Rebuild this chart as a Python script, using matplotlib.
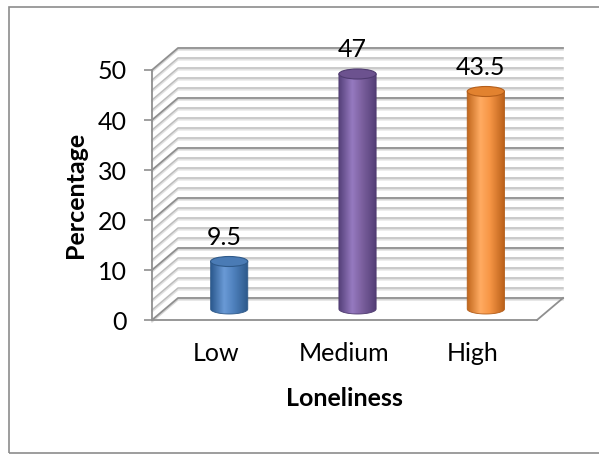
import numpy as np
import matplotlib
matplotlib.use('Agg')
import matplotlib.pyplot as plt
from matplotlib.path import Path
from matplotlib.patches import PathPatch, Ellipse, Rectangle
from matplotlib.colors import LinearSegmentedColormap

plt.rcParams['font.family'] = ['Lato', 'DejaVu Sans']

categories = ['Low', 'Medium', 'High']
percentages = [9.5, 47, 43.5]

# body shading (edge, highlight, base, edge) and top cap colour per cylinder
body_colors = [
    ['#2c5a8f', '#6a9ad6', '#4f81bd', '#2a5687'],
    ['#55407a', '#967ac0', '#7d61a0', '#503c73'],
    ['#c0661c', '#ffab62', '#f79646', '#b85f18'],
]
top_colors = ['#4a7bb5', '#6c528f', '#e2822f']
edge_colors = ['#2f5a8a', '#4f3b70', '#b45e1a']

FS = 18

W, H = 599, 455
fig = plt.figure(figsize=(W / 100, H / 100), dpi=100)
ax = fig.add_axes([152 / W, 135 / H, 385 / W, 250 / H])
ax.set_xlim(-0.5, 2.5)
ax.set_ylim(0, 50)

# depth of the 3d box in data units
DX = 0.2026
DY = 4.4

# back wall + side wall gridlines, every 2 units
for v in range(0, 51, 2):
    xs = [-0.5, -0.5 + DX, 2.5 + DX]
    ys = [v, v + DY, v + DY]
    if v % 10 == 0:
        ax.plot(xs, [y - 0.35 for y in ys], color='#d6d6d6', lw=1.2, clip_on=False, zorder=1)
        ax.plot(xs, ys, color='#8f8f8f', lw=1.3, clip_on=False, zorder=1.5)
    else:
        ax.plot(xs, [y - 0.35 for y in ys], color='#e2e2e2', lw=1.2, clip_on=False, zorder=1)
        ax.plot(xs, ys, color='#bcbcbc', lw=1.1, clip_on=False, zorder=1.5)

# right edge of the floor
ax.plot([2.5, 2.5 + DX], [0, DY], color='#8f8f8f', lw=1.3, clip_on=False, zorder=1.5)

# cylinders
r = 0.145
e = 1.0
grad = np.linspace(0, 1, 256).reshape(1, -1)
for i, v in enumerate(percentages):
    cx = i + DX / 2
    yb = DY / 2
    yt = v + DY / 2
    theta = np.linspace(np.pi, 2 * np.pi, 50)
    arc = np.column_stack([cx + r * np.cos(theta), yb + e * np.sin(theta)])
    verts = np.vstack([[cx - r, yt], arc, [cx + r, yt], [cx - r, yt]])
    codes = [Path.MOVETO] + [Path.LINETO] * (len(verts) - 2) + [Path.CLOSEPOLY]
    body = Path(verts, codes)
    clip = PathPatch(body, transform=ax.transData, facecolor='none', edgecolor='none')

    cmap = LinearSegmentedColormap.from_list(
        'cyl%d' % i,
        [(0.0, body_colors[i][0]), (0.35, body_colors[i][1]),
         (0.6, body_colors[i][2]), (1.0, body_colors[i][3])])
    im = ax.imshow(grad, cmap=cmap, extent=[cx - r, cx + r, yb - e, yt],
                   aspect='auto', origin='lower', zorder=3, interpolation='bilinear')
    im.set_clip_path(clip)
    im.set_clip_box(None)

    ax.add_patch(PathPatch(body, facecolor='none', edgecolor=edge_colors[i],
                           lw=0.6, zorder=3.5, clip_on=False))
    ax.add_patch(Ellipse((cx, yt), 2 * r, 2 * e, facecolor=top_colors[i],
                         edgecolor=edge_colors[i], lw=0.8, zorder=4, clip_on=False))

    ax.annotate(f'{v:g}', xy=(cx, yt), xytext=(-5, 24), textcoords='offset pixels',
                ha='center', va='center', fontsize=FS, color='#000000', zorder=5)

ax.set_xlim(-0.5, 2.5)
ax.set_ylim(0, 50)

ax.set_facecolor('none')
for s in ['top', 'right']:
    ax.spines[s].set_visible(False)
for s in ['left', 'bottom']:
    ax.spines[s].set_color('#8f8f8f')
    ax.spines[s].set_linewidth(1.3)
    ax.spines[s].set_zorder(2)

ax.set_yticks(range(0, 51, 10))
ax.tick_params(axis='y', direction='out', length=6, width=1.2, color='#8f8f8f',
               labelsize=FS, pad=12)
ax.set_xticks(range(len(categories)))
ax.set_xticklabels(categories)
ax.tick_params(axis='x', length=0, labelsize=FS, pad=16)

ax.set_ylabel('Percentage', fontsize=FS, fontweight='bold', labelpad=8)
ax.set_xlabel('Loneliness', fontsize=FS, fontweight='bold', labelpad=16)

# chart area border
fig.patches.append(Rectangle((9 / W, 2 / H), 1.0, 446 / H, transform=fig.transFigure,
                             fill=False, edgecolor='#8c8c8c', lw=1.2))

fig.savefig('out.png', dpi=100)
